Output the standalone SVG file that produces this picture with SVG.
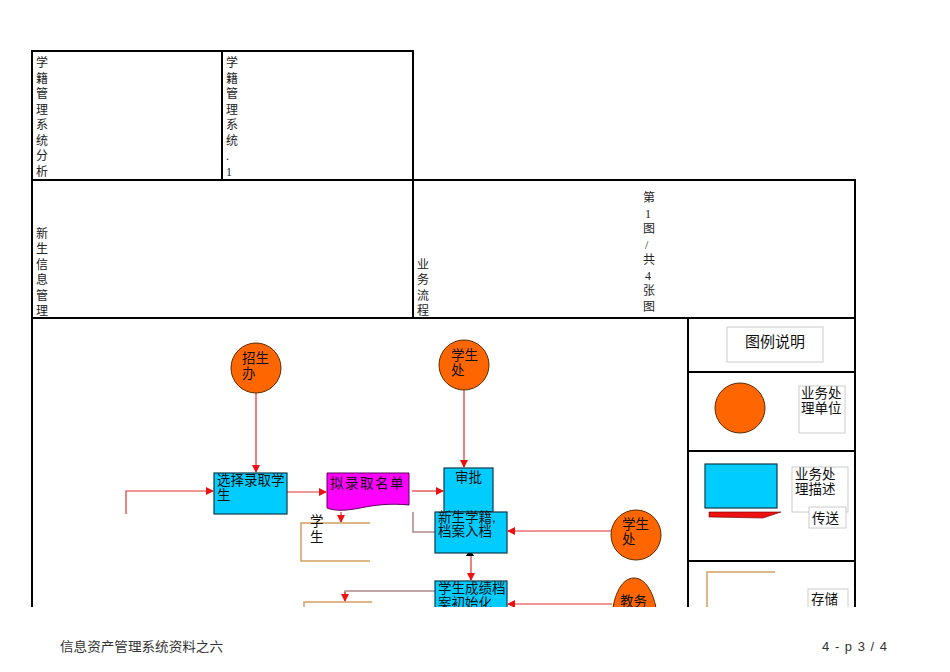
<svg xmlns="http://www.w3.org/2000/svg" width="950" height="672" viewBox="0 0 950 672">
<style>
.grid{stroke:#000;stroke-width:2;fill:none}
.vt{font-family:"Liberation Serif","Noto Sans CJK SC",serif;font-size:12px;fill:#222}
.lb{font-family:"Liberation Sans","Noto Sans CJK SC",sans-serif;font-size:13.5px;fill:#111}
.circ{fill:#ff6600;stroke:#5a2a00;stroke-width:1}
.proc{fill:#00ccff;stroke:#0a3a4a;stroke-width:1.2}
.arr{stroke:#e03030;stroke-width:1.2;fill:none;marker-end:url(#ah)}
.con{stroke:#b08888;stroke-width:1.5;fill:none}
.store{stroke:#d4a060;stroke-width:1.5;fill:none}
.tbox{fill:#fff;stroke:#cccccc;stroke-width:1}
.ft{font-family:"Liberation Sans","Noto Sans CJK SC",sans-serif;font-size:13px;fill:#333}
</style>
<defs>
<marker id="ah" markerWidth="8" markerHeight="8" refX="7" refY="4" orient="auto" markerUnits="userSpaceOnUse">
<path d="M0,0 L8,4 L0,8 Z" fill="#ee1111"/>
</marker>
<clipPath id="pg"><rect x="0" y="0" width="950" height="607"/></clipPath>
</defs>
<rect width="950" height="672" fill="#fff"/>
<g clip-path="url(#pg)">
<g id="table">
<rect class="grid" x="32" y="51" width="381" height="129"/>
<line class="grid" x1="222" y1="51" x2="222" y2="180"/>
<rect class="grid" x="32" y="180" width="823" height="138"/>
<line class="grid" x1="413" y1="180" x2="413" y2="318"/>
<line class="grid" x1="32" y1="318" x2="32" y2="620"/>
<line class="grid" x1="688" y1="318" x2="688" y2="620"/>
<line class="grid" x1="855" y1="318" x2="855" y2="620"/>
<line class="grid" x1="688" y1="372" x2="855" y2="372"/>
<line class="grid" x1="688" y1="451" x2="855" y2="451"/>
<line class="grid" x1="688" y1="561" x2="855" y2="561"/>
</g>
<g id="cell-title" class="vt">
<text x="36" y="67">学</text><text x="36" y="82.5">籍</text><text x="36" y="98">管</text><text x="36" y="114">理</text><text x="36" y="129">系</text><text x="36" y="145">统</text><text x="36" y="160">分</text><text x="36" y="175.5">析</text>
</g>
<g id="cell-code" class="vt">
<text x="226" y="67">学</text><text x="226" y="82.5">籍</text><text x="226" y="98">管</text><text x="226" y="114">理</text><text x="226" y="129">系</text><text x="226" y="145">统</text><text x="226" y="160">.</text><text x="226" y="175.5">1</text>
</g>
<g id="cell-name" class="vt">
<text x="36" y="237.5">新</text><text x="36" y="253">生</text><text x="36" y="268.5">信</text><text x="36" y="284">息</text><text x="36" y="299.5">管</text><text x="36" y="315">理</text>
</g>
<g id="cell-type" class="vt">
<text x="417" y="268.5">业</text><text x="417" y="284">务</text><text x="417" y="299.5">流</text><text x="417" y="315">程</text>
</g>
<g id="cell-page" class="vt">
<text x="643" y="202">第</text><text x="645" y="217.5">1</text><text x="643" y="233">图</text><text x="645" y="248.5">/</text><text x="643" y="264">共</text><text x="645" y="279.5">4</text><text x="643" y="295">张</text><text x="643" y="311">图</text>
</g>

<g id="connectors">
<polyline class="arr" points="126,514 126,491 213,491"/>
<line class="arr" x1="256" y1="393" x2="256" y2="472"/>
<line class="arr" x1="287" y1="492" x2="326" y2="492"/>
<line class="arr" x1="412" y1="491" x2="443" y2="491"/>
<line class="arr" x1="464" y1="390" x2="464" y2="467"/>
<line class="arr" x1="341" y1="512" x2="341" y2="522"/>
<polyline class="con" points="413,512 413,532 435,532"/>
<line class="arr" x1="611" y1="531" x2="508" y2="531"/>
<path d="M466,556 L470,549 L474,556 Z" fill="#000"/>
<line class="arr" x1="471" y1="556" x2="471" y2="580"/>
<polyline class="con" points="435,591 345,591 345,594"/>
<line class="arr" x1="345" y1="592" x2="345" y2="601"/>
<line class="arr" x1="612" y1="604" x2="508" y2="604"/>
</g>

<g id="n-zsb">
<circle class="circ" cx="256" cy="368" r="25"/>
<text class="lb" x="242" y="363">招生</text><text class="lb" x="242" y="378">办</text>
</g>
<g id="n-xsc1">
<circle class="circ" cx="464" cy="365" r="25"/>
<text class="lb" x="451" y="360">学生</text><text class="lb" x="451" y="375">处</text>
</g>
<g id="n-select">
<rect class="proc" x="214" y="473" width="73" height="41"/>
<text class="lb" x="217" y="485">选择录取学</text><text class="lb" x="217" y="500">生</text>
</g>
<g id="n-list">
<path d="M327,473 L409,473 L409,505 C390,503 375,505 360,508 C345,511 335,511 327,508 Z" fill="#ff00ff" stroke="#5a005a" stroke-width="1"/>
<text class="lb" x="330" y="488" letter-spacing="1.5">拟录取名单</text>
</g>
<g id="n-approve">
<rect class="proc" x="444" y="468" width="49" height="44"/>
<text class="lb" x="455" y="482">审批</text>
</g>
<g id="n-store1">
<polyline class="store" points="370,523 301,523 301,561 370,561"/>
<text class="lb" x="310" y="526" fill="#222">学</text><text class="lb" x="310" y="542" fill="#222">生</text>
</g>
<g id="n-archive">
<rect class="proc" x="435" y="512" width="72" height="41"/>
<text class="lb" x="438" y="522">新生学籍,</text><text class="lb" x="438" y="536">档案入档</text>
</g>
<g id="n-xsc2">
<circle class="circ" cx="636" cy="535" r="25"/>
<text class="lb" x="622" y="529">学生</text><text class="lb" x="622" y="544">处</text>
</g>
<g id="n-score">
<rect class="proc" x="435" y="581" width="72" height="40"/>
<text class="lb" x="438" y="593">学生成绩档</text><text class="lb" x="438" y="608">案初始化</text>
</g>
<g id="n-store2">
<polyline class="store" points="372,602 304,602 304,620"/>
</g>
<g id="n-jw">
<path d="M612,620 C612,600 620,578 634,578 C648,578 657,600 657,620 Z" class="circ"/>
<text class="lb" x="620" y="606">教务</text>
</g>

<g id="legend">
<rect class="tbox" x="727" y="327" width="96" height="35"/>
<text x="775" y="347" text-anchor="middle" font-family="Liberation Sans,Noto Sans CJK SC,sans-serif" font-size="15" fill="#111">图例说明</text>
<circle class="circ" cx="740" cy="408" r="25"/>
<rect class="tbox" x="799" y="386" width="46" height="47"/>
<text class="lb" x="801" y="398">业务处</text><text class="lb" x="801" y="413">理单位</text>
<rect class="proc" x="705" y="464" width="72" height="44"/>
<path d="M709,512 L781,512 L763,518 L709,517 Z" fill="#ee1111" stroke="#600" stroke-width="0.6"/>
<rect class="tbox" x="792" y="467" width="56" height="45"/>
<text class="lb" x="795" y="479">业务处</text><text class="lb" x="795" y="494">理描述</text>
<rect class="tbox" x="809" y="507" width="37" height="21"/>
<text class="lb" x="812" y="523">传送</text>
<polyline class="store" points="775,572 707,572 707,620"/>
<rect class="tbox" x="808" y="589" width="40" height="22"/>
<text class="lb" x="811" y="604">存储</text>
</g>
</g>
<g id="footer">
<text class="ft" x="60" y="651" textLength="163" lengthAdjust="spacingAndGlyphs">信息资产管理系统资料之六</text>
<text class="ft" x="888" y="651" text-anchor="end" letter-spacing="1">4 - p 3 / 4</text>
</g>
</svg>
